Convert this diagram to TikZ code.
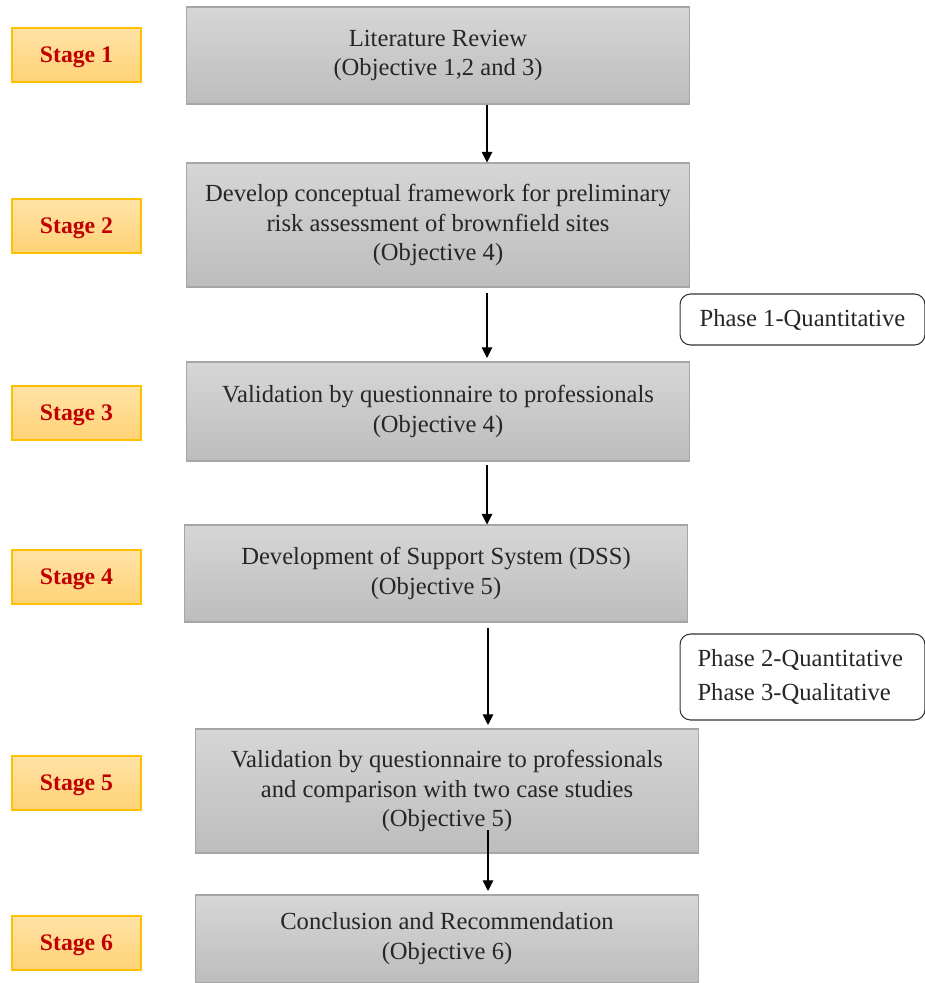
\documentclass[tikz,border=0pt]{standalone}
\usepackage{fontspec}
\setmainfont{Liberation Serif}
\usetikzlibrary{arrows.meta,shadings}
\definecolor{stageedge}{HTML}{FFC000}
\definecolor{stagetop}{HTML}{FFE3A6}
\definecolor{stagebot}{HTML}{FFD276}
\definecolor{stagetext}{HTML}{C00000}
\begin{document}
\begin{tikzpicture}[x=0.02cm,y=-0.02cm,
  stagebox/.style={draw=stageedge, line width=0.8pt, top color=stagetop, bottom color=stagebot,
    minimum width=2.58cm, minimum height=1.08cm, inner sep=0pt, text depth=-1pt,
    font=\fontsize{13.5}{15}\selectfont\bfseries, text=stagetext},
  taskbox/.style={draw=black!35, line width=0.6pt, top color=black!16, bottom color=black!26,
    minimum width=10.08cm, inner sep=0pt, align=center,
    font=\fontsize{14}{17}\selectfont, text=black!85},
  phasebox/.style={draw=black!80, line width=0.6pt, rounded corners=6pt, fill=white,
    inner sep=0pt, font=\fontsize{14}{19}\selectfont, text=black!85},
  flow/.style={-{Triangle[length=6pt,width=6pt]}, line width=0.6pt, black}]
\useasboundingbox (0,0) rectangle (925,983);

% stage labels
\node[stagebox] (s1) at (76.5,55) {Stage 1};
\node[stagebox] (s2) at (76.5,226) {Stage 2};
\node[stagebox] (s3) at (76.5,413) {Stage 3};
\node[stagebox] (s4) at (76.5,577) {Stage 4};
\node[stagebox] (s5) at (76.5,783) {Stage 5};
\node[stagebox] (s6) at (76.5,943) {Stage 6};

% process boxes
\node[taskbox, minimum height=1.94cm] (b1) at (438,55.5) {Literature Review\\(Objective 1,2 and 3)};
\node[taskbox, minimum height=2.48cm] (b2) at (438,225) {Develop conceptual framework for preliminary\\risk assessment of brownfield sites\\(Objective 4)};
\node[taskbox, minimum height=1.98cm] (b3) at (438,411.5) {Validation by questionnaire to professionals\\(Objective 4)};
\node[taskbox, minimum height=1.94cm] (b4) at (436,573.5) {Development of Support System (DSS)\\(Objective 5)};
\node[taskbox, minimum height=2.48cm] (b5) at (447,791) {Validation by questionnaire to professionals\\and comparison with two case studies\\(Objective 5)};
\node[taskbox, minimum height=1.76cm] (b6) at (447,939) {Conclusion and Recommendation\\(Objective 6)};

% phase notes
\node[phasebox, minimum width=4.9cm, minimum height=1.02cm] (p1) at (802.5,319.5) {Phase 1-Quantitative};
\node[phasebox, minimum width=4.9cm, minimum height=1.72cm, align=left] (p2) at (802.5,677) {\raisebox{-4pt}{\parbox{4.2cm}{Phase 2-Quantitative\\Phase 3-Qualitative}}};

% flow arrows
\draw[flow] (b1.south -| 487,0) -- (b2.north -| 487,0);
\draw[flow] ([yshift=-3pt]b2.south -| 487,0) -- ([yshift=2pt]b3.north -| 487,0);
\draw[flow] ([yshift=-2pt]b3.south -| 487,0) -- (b4.north -| 487,0);
\draw[flow] ([yshift=-3pt]b4.south -| 488,0) -- ([yshift=2pt]b5.north -| 488,0);
\coordinate (a5) at (488,830);
\draw[flow] (a5) -- ([yshift=2pt]b6.north -| 488,0);
\end{tikzpicture}
\end{document}
